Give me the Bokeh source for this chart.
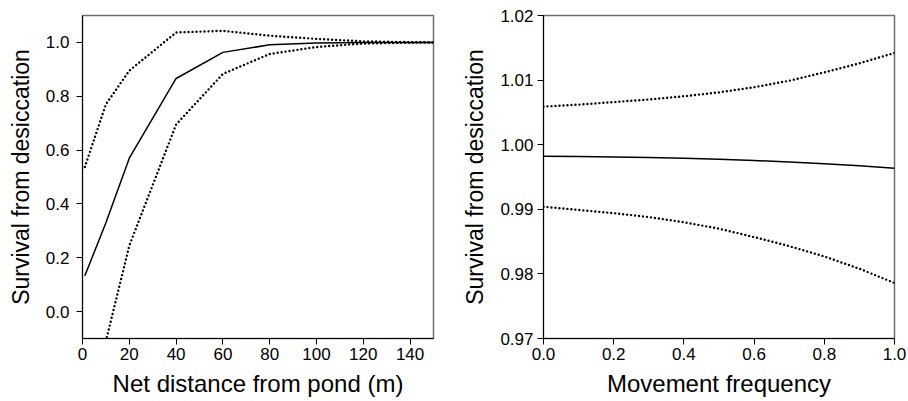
from bokeh.plotting import figure
from bokeh.layouts import row
from bokeh.models import Range1d, FixedTicker, PrintfTickFormatter
from bokeh.embed import file_html
from bokeh.resources import INLINE

# Left panel: survival vs net distance from pond
dist = [1, 10, 20, 40, 60, 80, 100, 120, 140, 150]
dist_mean = [0.133, 0.33, 0.570, 0.866, 0.963, 0.991, 0.998, 1.0, 1.0, 1.0]
dist_upper = [0.537, 0.77, 0.895, 1.037, 1.043, 1.025, 1.013, 1.004, 1.001, 1.0]
dist_lower = [-0.27, -0.11, 0.245, 0.695, 0.883, 0.957, 0.983, 0.996, 0.999, 1.0]
dist_xticks = [0, 20, 40, 60, 80, 100, 120, 140]
dist_yticks = [0.0, 0.2, 0.4, 0.6, 0.8, 1.0]

# Right panel: survival vs movement frequency
freq = [0.0, 0.1, 0.2, 0.3, 0.4, 0.5, 0.6, 0.7, 0.8, 0.9, 1.0]
freq_mean = [0.99822, 0.99816, 0.9981, 0.99801, 0.9979, 0.99774, 0.99755, 0.99732, 0.99705, 0.99673, 0.99636]
freq_upper = [1.0059, 1.0062, 1.0066, 1.0070, 1.0075, 1.0081, 1.0089, 1.0099, 1.0112, 1.0126, 1.0142]
freq_lower = [0.9904, 0.9899, 0.9894, 0.9888, 0.9880, 0.9870, 0.9857, 0.9843, 0.9827, 0.9808, 0.9786]
freq_xticks = [0.0, 0.2, 0.4, 0.6, 0.8, 1.0]
freq_yticks = [0.97, 0.98, 0.99, 1.00, 1.01, 1.02]

FONT = "Liberation Sans"


def style(p, xlabel, ylabel, xticks, yticks, xfmt, yfmt, ystandoff):
    p.grid.visible = False
    p.outline_line_color = "#707070"
    p.outline_line_width = 1.5
    p.background_fill_color = "white"
    p.border_fill_color = "white"
    for ax in (p.xaxis[0], p.yaxis[0]):
        ax.axis_line_color = "black"
        ax.axis_line_width = 1
        ax.major_tick_line_color = "black"
        ax.major_tick_out = 6
        ax.major_tick_in = 0
        ax.minor_tick_line_color = None
        ax.major_label_text_font = FONT
        ax.major_label_text_font_size = "17px"
        ax.major_label_text_color = "black"
        ax.axis_label_text_font = FONT
        ax.axis_label_text_font_style = "normal"
        ax.axis_label_text_color = "black"
    p.xaxis[0].axis_label_text_font_size = "24px"
    p.yaxis[0].axis_label_text_font_size = "23px"
    p.xaxis[0].axis_label = xlabel
    p.yaxis[0].axis_label = ylabel
    p.xaxis[0].ticker = FixedTicker(ticks=xticks)
    p.yaxis[0].ticker = FixedTicker(ticks=yticks)
    p.xaxis[0].formatter = PrintfTickFormatter(format=xfmt)
    p.yaxis[0].formatter = PrintfTickFormatter(format=yfmt)
    p.xaxis[0].major_label_standoff = 3
    p.xaxis[0].axis_label_standoff = 7
    p.yaxis[0].major_label_standoff = ystandoff
    p.yaxis[0].axis_label_standoff = 9


p1 = figure(width=454, height=401, output_backend="svg", toolbar_location=None,
            x_range=Range1d(0, 150), y_range=Range1d(-0.1, 1.1),
            min_border_left=82, min_border_right=21, min_border_top=15, min_border_bottom=63)
style(p1, "Net distance from pond (m)", "Survival from desiccation",
      dist_xticks, dist_yticks, "%d", "%.1f", 7)
p1.line(dist, dist_mean, line_color="black", line_width=1.5)
p1.line(dist, dist_upper, line_color="black", line_width=2.4, line_dash="0 4", line_cap="round")
p1.line(dist, dist_lower, line_color="black", line_width=2.4, line_dash="0 4", line_cap="round")

p2 = figure(width=454, height=401, output_backend="svg", toolbar_location=None,
            x_range=Range1d(0, 1), y_range=Range1d(0.97, 1.02),
            min_border_left=89, min_border_right=14, min_border_top=15, min_border_bottom=63)
style(p2, "Movement frequency", "Survival from desiccation",
      freq_xticks, freq_yticks, "%.1f", "%.2f", 4)
p2.line(freq, freq_mean, line_color="black", line_width=1.5)
p2.line(freq, freq_upper, line_color="black", line_width=2.4, line_dash="0 4", line_cap="round")
p2.line(freq, freq_lower, line_color="black", line_width=2.4, line_dash="0 4", line_cap="round")

layout = row(p1, p2)
open("out.html", "w").write(file_html(layout, INLINE))
